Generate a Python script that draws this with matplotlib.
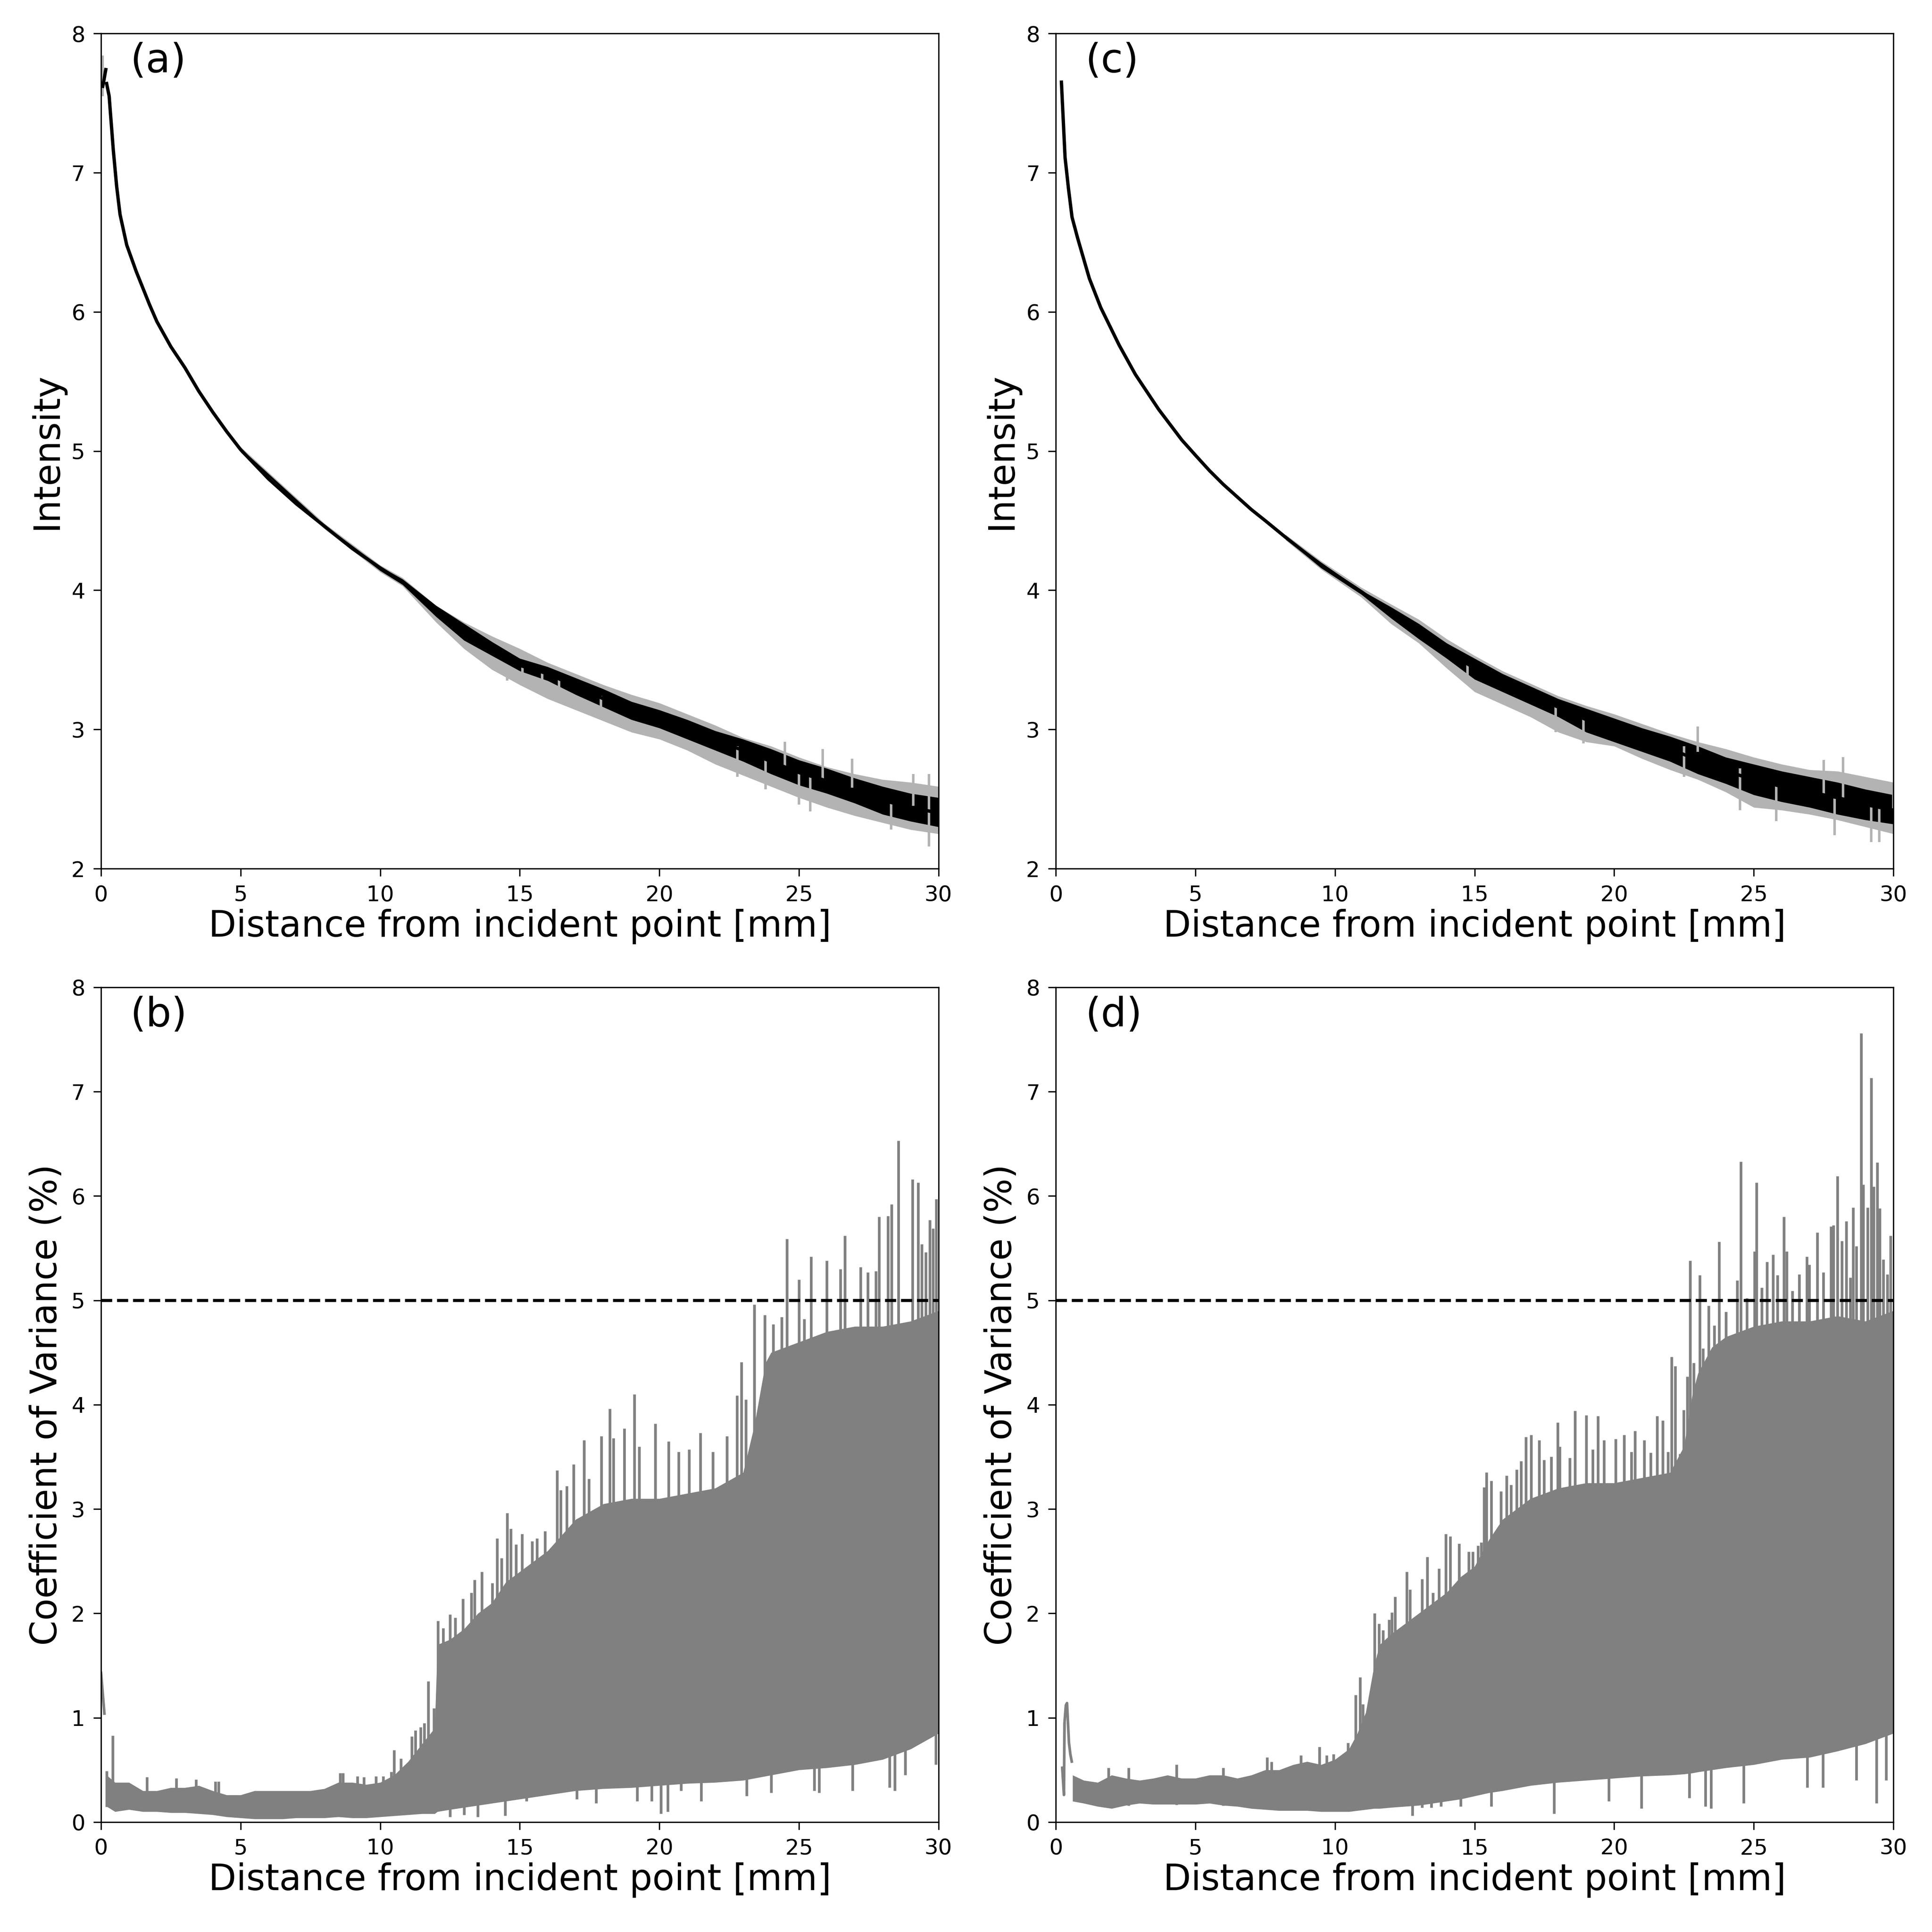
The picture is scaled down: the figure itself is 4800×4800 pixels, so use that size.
import matplotlib
matplotlib.use("Agg")
import matplotlib.pyplot as plt
import numpy as np

plt.rcParams["font.family"] = ["DejaVu Sans"]

# ---------- (a) intensity ----------
a_hook_x = [0.06, 0.10, 0.17]
a_hook_y = [7.62, 7.66, 7.74]
a_x = [0.2, 0.29, 0.44, 0.56, 0.68, 0.92, 1.26, 1.74, 2, 2.5, 3, 3.5, 4, 4.5, 5, 6, 7, 8, 9, 10,
       10.8, 12, 13, 14, 15, 16, 17, 18, 19, 20, 21, 22, 23, 24, 25, 26, 27, 28, 29, 30]
a_y = [7.64, 7.55, 7.16, 6.90, 6.70, 6.48, 6.29, 6.05, 5.93, 5.75, 5.60, 5.43, 5.28, 5.14, 5.01,
       4.80, 4.62, 4.46, 4.30, 4.16, 4.06, 3.86, 3.70, 3.58, 3.46, 3.40, 3.31, 3.22, 3.14, 3.07,
       3.00, 2.92, 2.85, 2.77, 2.69, 2.63, 2.56, 2.49, 2.44, 2.40]
a_band_x = [5, 8, 10, 10.8, 12, 13, 14, 15, 16, 17, 18, 19, 20, 21, 22, 23, 24, 25, 26, 27, 28, 29, 30]
a_black_hi = [5.02, 4.47, 4.17, 4.08, 3.89, 3.76, 3.63, 3.51, 3.45, 3.37, 3.29, 3.20, 3.14, 3.07,
              2.99, 2.93, 2.86, 2.78, 2.72, 2.65, 2.59, 2.54, 2.51]
a_black_lo = [5.00, 4.45, 4.14, 4.04, 3.81, 3.64, 3.53, 3.42, 3.35, 3.25, 3.16, 3.07, 3.01, 2.93,
              2.85, 2.77, 2.68, 2.60, 2.54, 2.47, 2.39, 2.34, 2.30]
a_gray_hi = [5.03, 4.48, 4.18, 4.09, 3.89, 3.77, 3.67, 3.58, 3.48, 3.40, 3.32, 3.25, 3.19, 3.11,
             3.03, 2.94, 2.88, 2.80, 2.73, 2.68, 2.64, 2.62, 2.59]
a_gray_lo = [4.99, 4.44, 4.13, 4.03, 3.77, 3.58, 3.43, 3.32, 3.22, 3.14, 3.06, 2.98, 2.93, 2.85,
             2.75, 2.67, 2.59, 2.51, 2.44, 2.38, 2.33, 2.28, 2.25]
a_spike_x = [14.54, 15.1, 15.8, 16.4, 17.9, 22.8, 23.8, 25.0, 25.4, 28.3, 29.65,
             24.5, 25.85, 26.9, 29.1, 29.65, 0.05]
a_spike_y = [3.35, 3.35, 3.28, 3.20, 3.07, 2.66, 2.57, 2.46, 2.41, 2.28, 2.16,
             2.91, 2.86, 2.79, 2.68, 2.68, 7.84]
a_spike_base = [3.46, 3.46, 3.42, 3.37, 3.24, 2.88, 2.78, 2.69, 2.66, 2.48, 2.42,
                2.73, 2.64, 2.58, 2.45, 2.42, 7.55]

# ---------- (c) intensity ----------
c_x = [0.2, 0.33, 0.45, 0.58, 0.78, 1.2, 1.61, 2.27, 2.85, 3.68, 4.51, 5, 5.5, 6, 6.5, 7, 7.5,
       8.23, 9.5, 10.94, 12, 13, 14, 15, 16, 17, 18, 19, 20, 21, 22, 23, 24, 25, 26, 27, 28, 29, 30]
c_y = [7.65, 7.11, 6.89, 6.68, 6.53, 6.24, 6.03, 5.76, 5.55, 5.30, 5.08, 4.97, 4.86, 4.76, 4.67,
       4.58, 4.50, 4.38, 4.18, 3.99, 3.84, 3.71, 3.56, 3.44, 3.34, 3.25, 3.16, 3.07, 2.99, 2.93,
       2.86, 2.78, 2.70, 2.64, 2.59, 2.55, 2.51, 2.46, 2.42]
c_band_x = [8.23, 9.5, 10.94, 12, 13, 14, 15, 16, 17, 18, 19, 20, 21, 22, 23, 24, 25, 26,
            27, 28, 29, 30]
c_black_hi = [4.39, 4.20, 4.00, 3.88, 3.76, 3.62, 3.51, 3.40, 3.31, 3.22, 3.15, 3.08, 3.01,
              2.95, 2.88, 2.80, 2.75, 2.70, 2.66, 2.62, 2.57, 2.53]
c_black_lo = [4.37, 4.16, 3.97, 3.80, 3.65, 3.51, 3.36, 3.27, 3.18, 3.09, 2.98, 2.91, 2.84,
              2.77, 2.68, 2.61, 2.53, 2.48, 2.44, 2.39, 2.35, 2.32]
c_gray_hi = [4.40, 4.21, 4.02, 3.90, 3.79, 3.65, 3.53, 3.42, 3.33, 3.24, 3.17, 3.11, 3.04,
             2.97, 2.91, 2.86, 2.80, 2.75, 2.71, 2.70, 2.66, 2.62]
c_gray_lo = [4.36, 4.15, 3.95, 3.76, 3.62, 3.44, 3.27, 3.18, 3.09, 2.98, 2.91, 2.88, 2.79,
             2.71, 2.64, 2.55, 2.44, 2.42, 2.39, 2.35, 2.30, 2.25]
c_spike_x = [14.75, 17.9, 18.9, 22.5, 24.5, 25.8, 27.9, 29.2, 29.5, 23.0, 27.5, 28.2, 30.0]
c_spike_y = [3.35, 2.98, 2.90, 2.66, 2.42, 2.34, 2.24, 2.19, 2.19, 3.02, 2.78, 2.80, 2.62]
c_spike_base = [3.47, 3.16, 3.07, 2.88, 2.72, 2.61, 2.51, 2.45, 2.44, 2.84, 2.54, 2.50, 2.42]

# ---------- (b) coefficient of variance ----------
b_start_x = [0.0, 0.12]
b_start_y = [1.43, 1.04]
b_x = [0.2, 0.5, 1, 1.5, 2, 2.5, 3, 3.5, 4, 4.5, 5, 5.5, 6, 6.5, 7, 7.5, 8, 8.5, 9, 9.5, 10,
       10.5, 11, 11.5, 11.95, 12.05, 12.5, 13, 13.5, 14, 14.5, 15, 16, 17, 18, 19, 20, 21, 22,
       23, 23.4, 23.8, 24, 25, 26, 27, 28, 29, 30]
b_hi = [0.45, 0.38, 0.38, 0.30, 0.30, 0.33, 0.33, 0.35, 0.30, 0.26, 0.26, 0.30, 0.30, 0.30, 0.30,
        0.30, 0.32, 0.38, 0.38, 0.36, 0.38, 0.45, 0.58, 0.75, 0.90, 1.70, 1.75, 1.85, 2.00, 2.10,
        2.30, 2.40, 2.60, 2.90, 3.05, 3.10, 3.10, 3.15, 3.20, 3.35, 3.80, 4.40, 4.50, 4.60, 4.70,
        4.75, 4.75, 4.80, 4.90]
b_lo = [0.15, 0.10, 0.12, 0.10, 0.10, 0.09, 0.09, 0.08, 0.07, 0.05, 0.04, 0.03, 0.03, 0.03, 0.04,
        0.04, 0.04, 0.05, 0.04, 0.04, 0.05, 0.06, 0.07, 0.08, 0.08, 0.10, 0.12, 0.14, 0.16, 0.18,
        0.20, 0.22, 0.26, 0.30, 0.32, 0.33, 0.35, 0.37, 0.38, 0.40, 0.42, 0.44, 0.45, 0.50, 0.52,
        0.55, 0.60, 0.70, 0.85]
b_peak_x = [0.2, 0.42, 1.65, 2.7, 3.4, 4.09, 4.21, 8.56, 8.66, 9.19, 9.42, 9.85, 10.1, 10.4, 10.5,
            10.74, 11.13, 11.26, 11.44, 11.57, 11.72, 11.92, 12.07, 12.25, 12.5, 12.68, 12.96,
            13.26, 13.38, 13.64, 14.02, 14.19, 14.34, 14.55, 14.68, 14.87, 15.08, 15.44, 15.62,
            15.9, 16.34, 16.47, 16.68, 16.93, 17.3, 17.47, 17.92, 18.23, 18.36, 18.74, 19.1,
            19.28, 19.85, 20.33, 20.69, 21.06, 21.46, 21.91, 22.42, 22.78, 22.94, 23.09, 23.4,
            23.78, 24.07, 24.38, 24.57, 25.0, 25.19, 25.43, 26.0, 26.49, 26.65, 27.21, 27.47,
            27.76, 27.87, 28.18, 28.32, 28.56, 29.07, 29.26, 29.4, 29.54, 29.69, 29.8, 29.92]
b_peak_y = [0.49, 0.83, 0.43, 0.42, 0.41, 0.39, 0.39, 0.47, 0.47, 0.44, 0.43, 0.44, 0.44, 0.48,
            0.69, 0.61, 0.82, 0.88, 0.91, 0.95, 1.35, 1.09, 1.93, 1.86, 1.99, 1.96, 2.14, 2.20,
            2.32, 2.40, 2.29, 2.72, 2.53, 2.96, 2.81, 2.66, 2.76, 2.69, 2.72, 2.79, 3.37, 3.18,
            3.22, 3.43, 3.66, 3.29, 3.70, 3.96, 3.68, 3.77, 4.10, 3.60, 3.82, 3.65, 3.55, 3.57,
            3.73, 3.55, 3.70, 4.09, 4.41, 4.05, 4.96, 4.86, 4.77, 4.84, 5.59, 5.20, 4.82, 5.42,
            5.38, 5.30, 5.62, 5.32, 5.27, 5.28, 5.80, 5.81, 5.92, 6.53, 6.16, 6.13, 5.54, 5.46,
            5.77, 5.69, 5.97]
b_dip_x = [12.5, 13.0, 13.5, 14.48, 15.24, 17.04, 17.73, 19.2, 19.72, 20.05, 20.3, 20.77, 21.5,
           23.12, 24.0, 25.55, 25.72, 26.91, 28.25, 28.43, 28.8, 29.9]
b_dip_y = [0.05, 0.07, 0.05, 0.06, 0.20, 0.22, 0.18, 0.20, 0.20, 0.08, 0.10, 0.30, 0.20, 0.25,
           0.28, 0.30, 0.28, 0.30, 0.33, 0.30, 0.45, 0.55]

# ---------- (d) coefficient of variance ----------
d_start_x = [0.23, 0.29, 0.31, 0.36, 0.40, 0.47, 0.52, 0.57]
d_start_y = [0.52, 0.26, 0.95, 1.12, 1.14, 0.76, 0.65, 0.58]
d_x = [0.6, 1, 1.5, 2, 2.5, 3, 3.5, 4, 4.5, 5, 5.5, 6, 6.5, 7, 7.5, 8, 8.5, 9, 9.5, 10, 10.5,
       10.8, 11.1, 11.4, 11.6, 12, 12.5, 13, 13.5, 14, 14.5, 15, 15.5, 16, 17, 18, 19, 20, 21,
       22, 22.5, 22.8, 23, 23.5, 24, 25, 26, 27, 28, 29, 30]
d_hi = [0.45, 0.40, 0.38, 0.45, 0.42, 0.40, 0.42, 0.45, 0.42, 0.42, 0.45, 0.45, 0.42, 0.45, 0.50,
        0.50, 0.55, 0.58, 0.55, 0.60, 0.70, 0.85, 1.05, 1.50, 1.70, 1.80, 1.90, 2.00, 2.10, 2.20,
        2.35, 2.45, 2.70, 2.90, 3.10, 3.20, 3.25, 3.25, 3.30, 3.35, 3.60, 4.10, 4.30, 4.55, 4.65,
        4.75, 4.80, 4.80, 4.85, 4.80, 4.90]
d_lo = [0.20, 0.18, 0.15, 0.13, 0.16, 0.18, 0.17, 0.17, 0.17, 0.17, 0.18, 0.16, 0.15, 0.13, 0.12,
        0.11, 0.11, 0.11, 0.10, 0.10, 0.10, 0.11, 0.12, 0.13, 0.13, 0.14, 0.15, 0.16, 0.18, 0.20,
        0.22, 0.25, 0.28, 0.30, 0.35, 0.38, 0.40, 0.42, 0.44, 0.45, 0.46, 0.47, 0.48, 0.50, 0.52,
        0.55, 0.60, 0.62, 0.68, 0.75, 0.85]
d_peak_x = [1.89, 2.6, 4.32, 5.99, 7.57, 7.72, 8.78, 9.44, 9.7, 9.95, 10.46, 10.74, 10.89, 11.0,
            11.27, 11.42, 11.57, 11.72, 11.93, 12.03, 12.15, 12.57, 12.69, 13.12, 13.31, 13.5,
            13.72, 13.97, 14.13, 14.44, 14.79, 14.94, 15.12, 15.24, 15.34, 15.42, 15.59, 15.95,
            16.15, 16.31, 16.51, 16.67, 16.84, 17.03, 17.31, 17.49, 17.74, 17.98, 18.05, 18.41,
            18.59, 19.0, 19.23, 19.42, 19.64, 20.05, 20.36, 20.62, 20.75, 21.08, 21.31, 21.54,
            21.74, 21.93, 22.05, 22.19, 22.36, 22.49, 22.62, 22.72, 22.85, 23.06, 23.18, 23.38,
            23.59, 23.76, 24.0, 24.41, 24.53, 24.75, 25.03, 25.1, 25.28, 25.47, 25.69, 25.85,
            26.08, 26.18, 26.38, 26.62, 26.9, 26.99, 27.28, 27.49, 27.77, 27.85, 28.0, 28.15,
            28.31, 28.46, 28.56, 28.67, 28.84, 28.92, 29.08, 29.21, 29.3, 29.42, 29.51, 29.64,
            29.79, 29.9]
d_peak_y = [0.52, 0.52, 0.55, 0.52, 0.62, 0.58, 0.64, 0.72, 0.64, 0.65, 0.76, 1.22, 1.39, 1.13,
            1.19, 2.00, 1.90, 1.84, 1.94, 2.01, 2.16, 2.40, 2.23, 2.33, 2.54, 2.20, 2.43, 2.76,
            2.74, 2.67, 2.59, 2.59, 2.65, 2.68, 3.21, 3.35, 3.27, 3.17, 3.32, 3.23, 3.38, 3.46,
            3.69, 3.71, 3.66, 3.47, 3.50, 3.83, 3.60, 3.49, 3.94, 3.90, 3.57, 3.89, 3.66, 3.67,
            3.71, 3.55, 3.75, 3.66, 3.54, 3.89, 3.85, 3.55, 4.46, 4.37, 3.53, 3.95, 4.27, 5.38,
            4.40, 5.24, 4.54, 4.95, 4.76, 5.56, 4.89, 5.19, 6.33, 5.02, 5.47, 6.13, 5.12, 5.37,
            5.44, 5.24, 5.80, 5.47, 5.09, 5.25, 5.42, 5.34, 5.65, 5.27, 5.71, 5.72, 6.19, 5.57,
            5.76, 5.22, 5.89, 5.52, 7.56, 6.11, 5.89, 7.13, 6.09, 6.32, 5.88, 5.39, 5.25, 5.62]
d_dip_x = [12.77, 13.12, 13.45, 13.8, 14.5, 15.6, 17.85, 19.8, 20.97, 22.69, 23.26, 23.47, 24.64,
           26.92, 27.47, 28.67, 29.4, 29.74]
d_dip_y = [0.06, 0.14, 0.14, 0.15, 0.15, 0.15, 0.08, 0.20, 0.13, 0.23, 0.15, 0.13, 0.18, 0.33,
           0.33, 0.40, 0.18, 0.40]

cv_limit = 5
x_ticks = [0, 5, 10, 15, 20, 25, 30]
xlabel = "Distance from incident point [mm]"
light_gray = "#b3b3b3"
cv_gray = "#808080"

fig = plt.figure(figsize=(16, 16), dpi=300)
ax_a = fig.add_axes([0.0523, 0.5504, 0.4335, 0.4323])
ax_c = fig.add_axes([0.5465, 0.5504, 0.4335, 0.4323])
ax_b = fig.add_axes([0.0523, 0.0569, 0.4335, 0.4321])
ax_d = fig.add_axes([0.5465, 0.0569, 0.4335, 0.4321])


def draw_intensity(ax, x, y, bx, bhi, blo, ghi, glo, sx, sy, sbase, letter):
    ax.fill_between(bx, glo, ghi, color=light_gray, lw=0)
    ax.vlines(sx, sbase, sy, color=light_gray, lw=1.5)
    ax.fill_between(bx, blo, bhi, color="black", lw=0)
    ax.plot(x, y, color="black", lw=2)
    ax.set_xlim(0, 30)
    ax.set_ylim(2, 8)
    ax.set_yticks(range(2, 9))
    ax.set_ylabel("Intensity", fontsize=21.5)
    ax.text(0.035, 0.99, letter, transform=ax.transAxes, fontsize=24, va="top", ha="left")


def draw_cv(ax, sx, sy, x, hi, lo, px, py, dx, dy, letter):
    ax.plot(sx, sy, color=cv_gray, lw=1.6)
    ax.fill_between(x, lo, hi, color=cv_gray, lw=0)
    ax.vlines(px, np.array(py) * 0.3, py, color=cv_gray, lw=1.6)
    ax.vlines(dx, dy, 1.0, color=cv_gray, lw=1.6)
    ax.axhline(cv_limit, color="black", ls="--", lw=1.8)
    ax.set_xlim(0, 30)
    ax.set_ylim(0, 8)
    ax.set_yticks(range(0, 9))
    ax.set_ylabel("Coefficient of Variance (%)", fontsize=21.5)
    ax.text(0.035, 0.99, letter, transform=ax.transAxes, fontsize=24, va="top", ha="left")


draw_intensity(ax_a, a_x, a_y, a_band_x, a_black_hi, a_black_lo, a_gray_hi, a_gray_lo,
               a_spike_x, a_spike_y, a_spike_base, "(a)")
ax_a.plot(a_hook_x, a_hook_y, color="black", lw=2)
draw_intensity(ax_c, c_x, c_y, c_band_x, c_black_hi, c_black_lo, c_gray_hi, c_gray_lo,
               c_spike_x, c_spike_y, c_spike_base, "(c)")
draw_cv(ax_b, b_start_x, b_start_y, b_x, b_hi, b_lo, b_peak_x, b_peak_y, b_dip_x, b_dip_y, "(b)")
draw_cv(ax_d, d_start_x, d_start_y, d_x, d_hi, d_lo, d_peak_x, d_peak_y, d_dip_x, d_dip_y, "(d)")

for ax in (ax_a, ax_b, ax_c, ax_d):
    ax.set_xticks(x_ticks)
    ax.set_xlabel(xlabel, fontsize=21.5, labelpad=2)
    ax.tick_params(labelsize=13, length=4.5, pad=5)

fig.savefig("out.png", dpi=300)
